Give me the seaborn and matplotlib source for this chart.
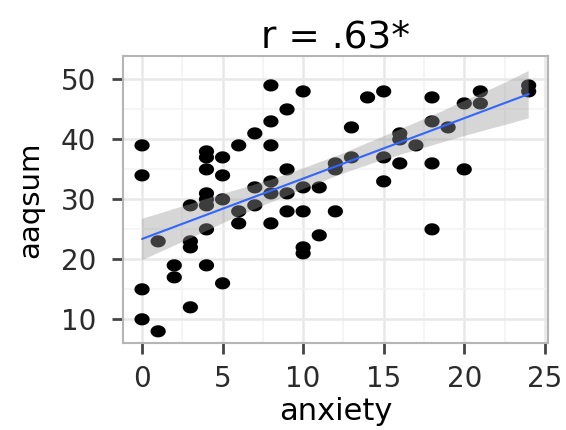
import matplotlib
matplotlib.use('Agg')
import matplotlib.pyplot as plt
from matplotlib.path import Path
import seaborn as sns
import pandas as pd
import numpy as np

# values
anxiety = [0, 0, 0, 0,
           1, 1,
           2, 2,
           3, 3, 3, 3,
           4, 4, 4, 4, 4, 4, 4, 4,
           5, 5, 5, 5,
           6, 6, 6,
           7, 7, 7,
           8, 8, 8, 8, 8, 8,
           9, 9, 9, 9,
           10, 10, 10, 10, 10,
           11, 11,
           12, 12, 12,
           13, 13,
           14,
           15, 15, 15,
           16, 16, 16,
           17,
           18, 18, 18, 18,
           19,
           20, 20,
           21, 21,
           24, 24]
aaqsum = [39, 34, 15, 10,
          23, 8,
          19, 17,
          29, 23, 22, 12,
          38, 37, 35, 31, 30, 29, 25, 19,
          37, 34, 30, 16,
          39, 28, 26,
          41, 32, 29,
          49, 43, 39, 33, 31, 26,
          45, 35, 31, 28,
          48, 32, 28, 22, 21,
          32, 24,
          36, 35, 28,
          42, 37,
          47,
          48, 37, 33,
          41, 40, 36,
          39,
          47, 43, 36, 25,
          42,
          46, 35,
          48, 46,
          49, 48]

x_ticks = [0, 5, 10, 15, 20, 25]
y_ticks = [10, 20, 30, 40, 50]
title = 'r = .63*'

df = pd.DataFrame({'anxiety': anxiety, 'aaqsum': aaqsum})

sns.set_style('white')
plt.rcParams['font.family'] = ['DejaVu Sans']

# slightly wide dots, like the stretched original
t = np.linspace(0, 2 * np.pi, 40)
dot = Path(np.column_stack([1.25 * np.cos(t), np.sin(t)]), closed=True)

fig = plt.figure(figsize=(5.66, 4.30), dpi=100)
ax = fig.add_axes([0.2168, 0.203, 0.7514, 0.6667])

# grid like ggplot theme_bw
ax.set_axisbelow(True)
ax.set_xticks(x_ticks)
ax.set_yticks(y_ticks)
ax.set_xticks([2.5, 7.5, 12.5, 17.5, 22.5], minor=True)
ax.set_yticks([15, 25, 35, 45], minor=True)
ax.grid(True, which='major', color='#e8e8e8', linewidth=1.8)
ax.grid(True, which='minor', color='#f3f3f3', linewidth=1.1)

sns.scatterplot(data=df, x='anxiety', y='aaqsum', color='black', s=120,
                marker=dot, edgecolor='none', ax=ax, zorder=2)
n_before = len(ax.collections)
sns.regplot(data=df, x='anxiety', y='aaqsum', scatter=False, ci=95,
            color='#3366FF', line_kws={'linewidth': 1.5, 'zorder': 4}, ax=ax)
# grey confidence band drawn over the points
for coll in ax.collections[n_before:]:
    coll.set_facecolor('#999999')
    coll.set_alpha(0.4)
    coll.set_edgecolor('none')
    coll.set_zorder(3)

ax.set_xlim(-1.2, 25.2)
ax.set_ylim(6.1, 53.9)

for side in ['top', 'bottom', 'left', 'right']:
    ax.spines[side].set_visible(True)
    ax.spines[side].set_color('#b5b5b5')
    ax.spines[side].set_linewidth(1.5)

ax.tick_params(axis='both', which='major', direction='out', length=8, width=2,
               color='#444444', labelsize=20, labelcolor='#2b2b2b', pad=8,
               bottom=True, left=True)
ax.tick_params(axis='y', which='major', pad=11)
ax.tick_params(axis='both', which='minor', length=0)

ax.set_xlabel('anxiety', fontsize=22, color='black', labelpad=3)
ax.set_ylabel('aaqsum', fontsize=21, color='black', labelpad=12)
ax.set_title(title, fontsize=27, color='black', pad=6)

fig.savefig('out.png', dpi=100)
plt.close()
